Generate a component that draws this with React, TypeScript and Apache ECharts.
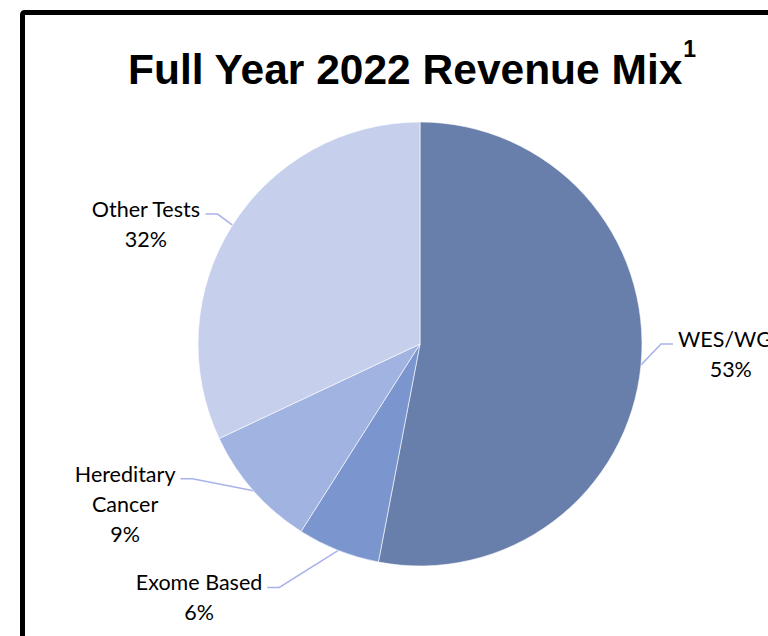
import React, { useEffect, useRef } from "react";
import * as echarts from "echarts";

// ---- data ----
const categories = ["WES/WGS", "Exome Based", "Hereditary Cancer", "Other Tests"];
const labelText = ["WES/WGS", "Exome Based", "Hereditary\nCancer", "Other Tests"];
const shares = [53, 6, 9, 32];
const colors = ["#687EAB", "#7B96CF", "#A1B3E0", "#C6D0EC"];

// ---- layout (label leader line elbows relative to slice edge) ----
const elbowOffset: [number, number][] = [
  [20, -21],
  [-59, 37],
  [-61, -12],
  [-15, -11],
];
const LEN2 = 12;
const GAP = 5;
const LINE_H = 30;

export default function App() {
  const ref = useRef<HTMLDivElement>(null);

  useEffect(() => {
    if (!ref.current) return;
    const chart = echarts.init(ref.current, undefined, { renderer: "svg" });
    const option: any = {
      animation: false,
      backgroundColor: "#ffffff",
      title: {
        left: 128,
        top: 37,
        padding: 0,
        text: "{main|Full Year 2022 Revenue Mix}{sup|1}",
        textStyle: {
          rich: {
            main: {
              fontFamily: "Liberation Sans, Arial, sans-serif",
              fontWeight: "bold",
              fontSize: 42.5,
              lineHeight: 64,
              color: "#000000",
            },
            sup: {
              fontFamily: "Liberation Sans, Arial, sans-serif",
              fontWeight: "bold",
              fontSize: 23,
              lineHeight: 3,
              verticalAlign: "top",
              color: "#000000",
            },
          },
        },
      },
      graphic: [
        {
          type: "rect",
          silent: true,
          z: 100,
          shape: { x: 22.5, y: 12.5, width: 1000, height: 1000, r: 2 },
          style: { fill: "none", stroke: "#000000", lineWidth: 5 },
        },
      ],
      series: [
        {
          type: "pie",
          center: [420, 344],
          radius: [0, 222],
          startAngle: 90,
          clockwise: true,
          avoidLabelOverlap: false,
          emphasis: { disabled: true },
          itemStyle: { borderColor: "#ffffff", borderWidth: 0.6 },
          label: {
            show: true,
            position: "outside",
            fontFamily: "Lato, 'Open Sans', sans-serif",
            fontSize: 21.5,
            lineHeight: LINE_H,
            color: "#000000",
            formatter: (p: any) => `${labelText[p.dataIndex]}\n${Math.round(p.percent)}%`,
          },
          labelLine: {
            show: true,
            length: 15,
            length2: LEN2,
            smooth: false,
            lineStyle: { color: "#A9B2EA", width: 1.5 },
          },
          labelLayout: (params: any) => {
            const i = params.dataIndex;
            const pts = params.labelLinePoints;
            if (!pts || !pts[0]) return {};
            const p0 = pts[0];
            const [ox, oy] = elbowOffset[i];
            const side = ox < 0 ? -1 : 1;
            const elbow = [p0[0] + ox, p0[1] + oy];
            const end = [elbow[0] + side * LEN2, elbow[1]];
            const w = params.labelRect.width;
            const textEdge = end[0] + side * GAP;
            return {
              x: textEdge + (side * w) / 2,
              y: end[1] - 5 - LINE_H / 2,
              align: "center",
              verticalAlign: "top",
              labelLinePoints: [p0, elbow, end],
            };
          },
          data: categories.map((name, i) => ({
            name,
            value: shares[i],
            itemStyle: { color: colors[i] },
          })),
        },
      ],
    };
    chart.setOption(option);
    return () => chart.dispose();
  }, []);

  return (
    <div
      ref={ref}
      style={{ position: "fixed", left: 0, top: 0, width: 768, height: 636 }}
    />
  );
}
